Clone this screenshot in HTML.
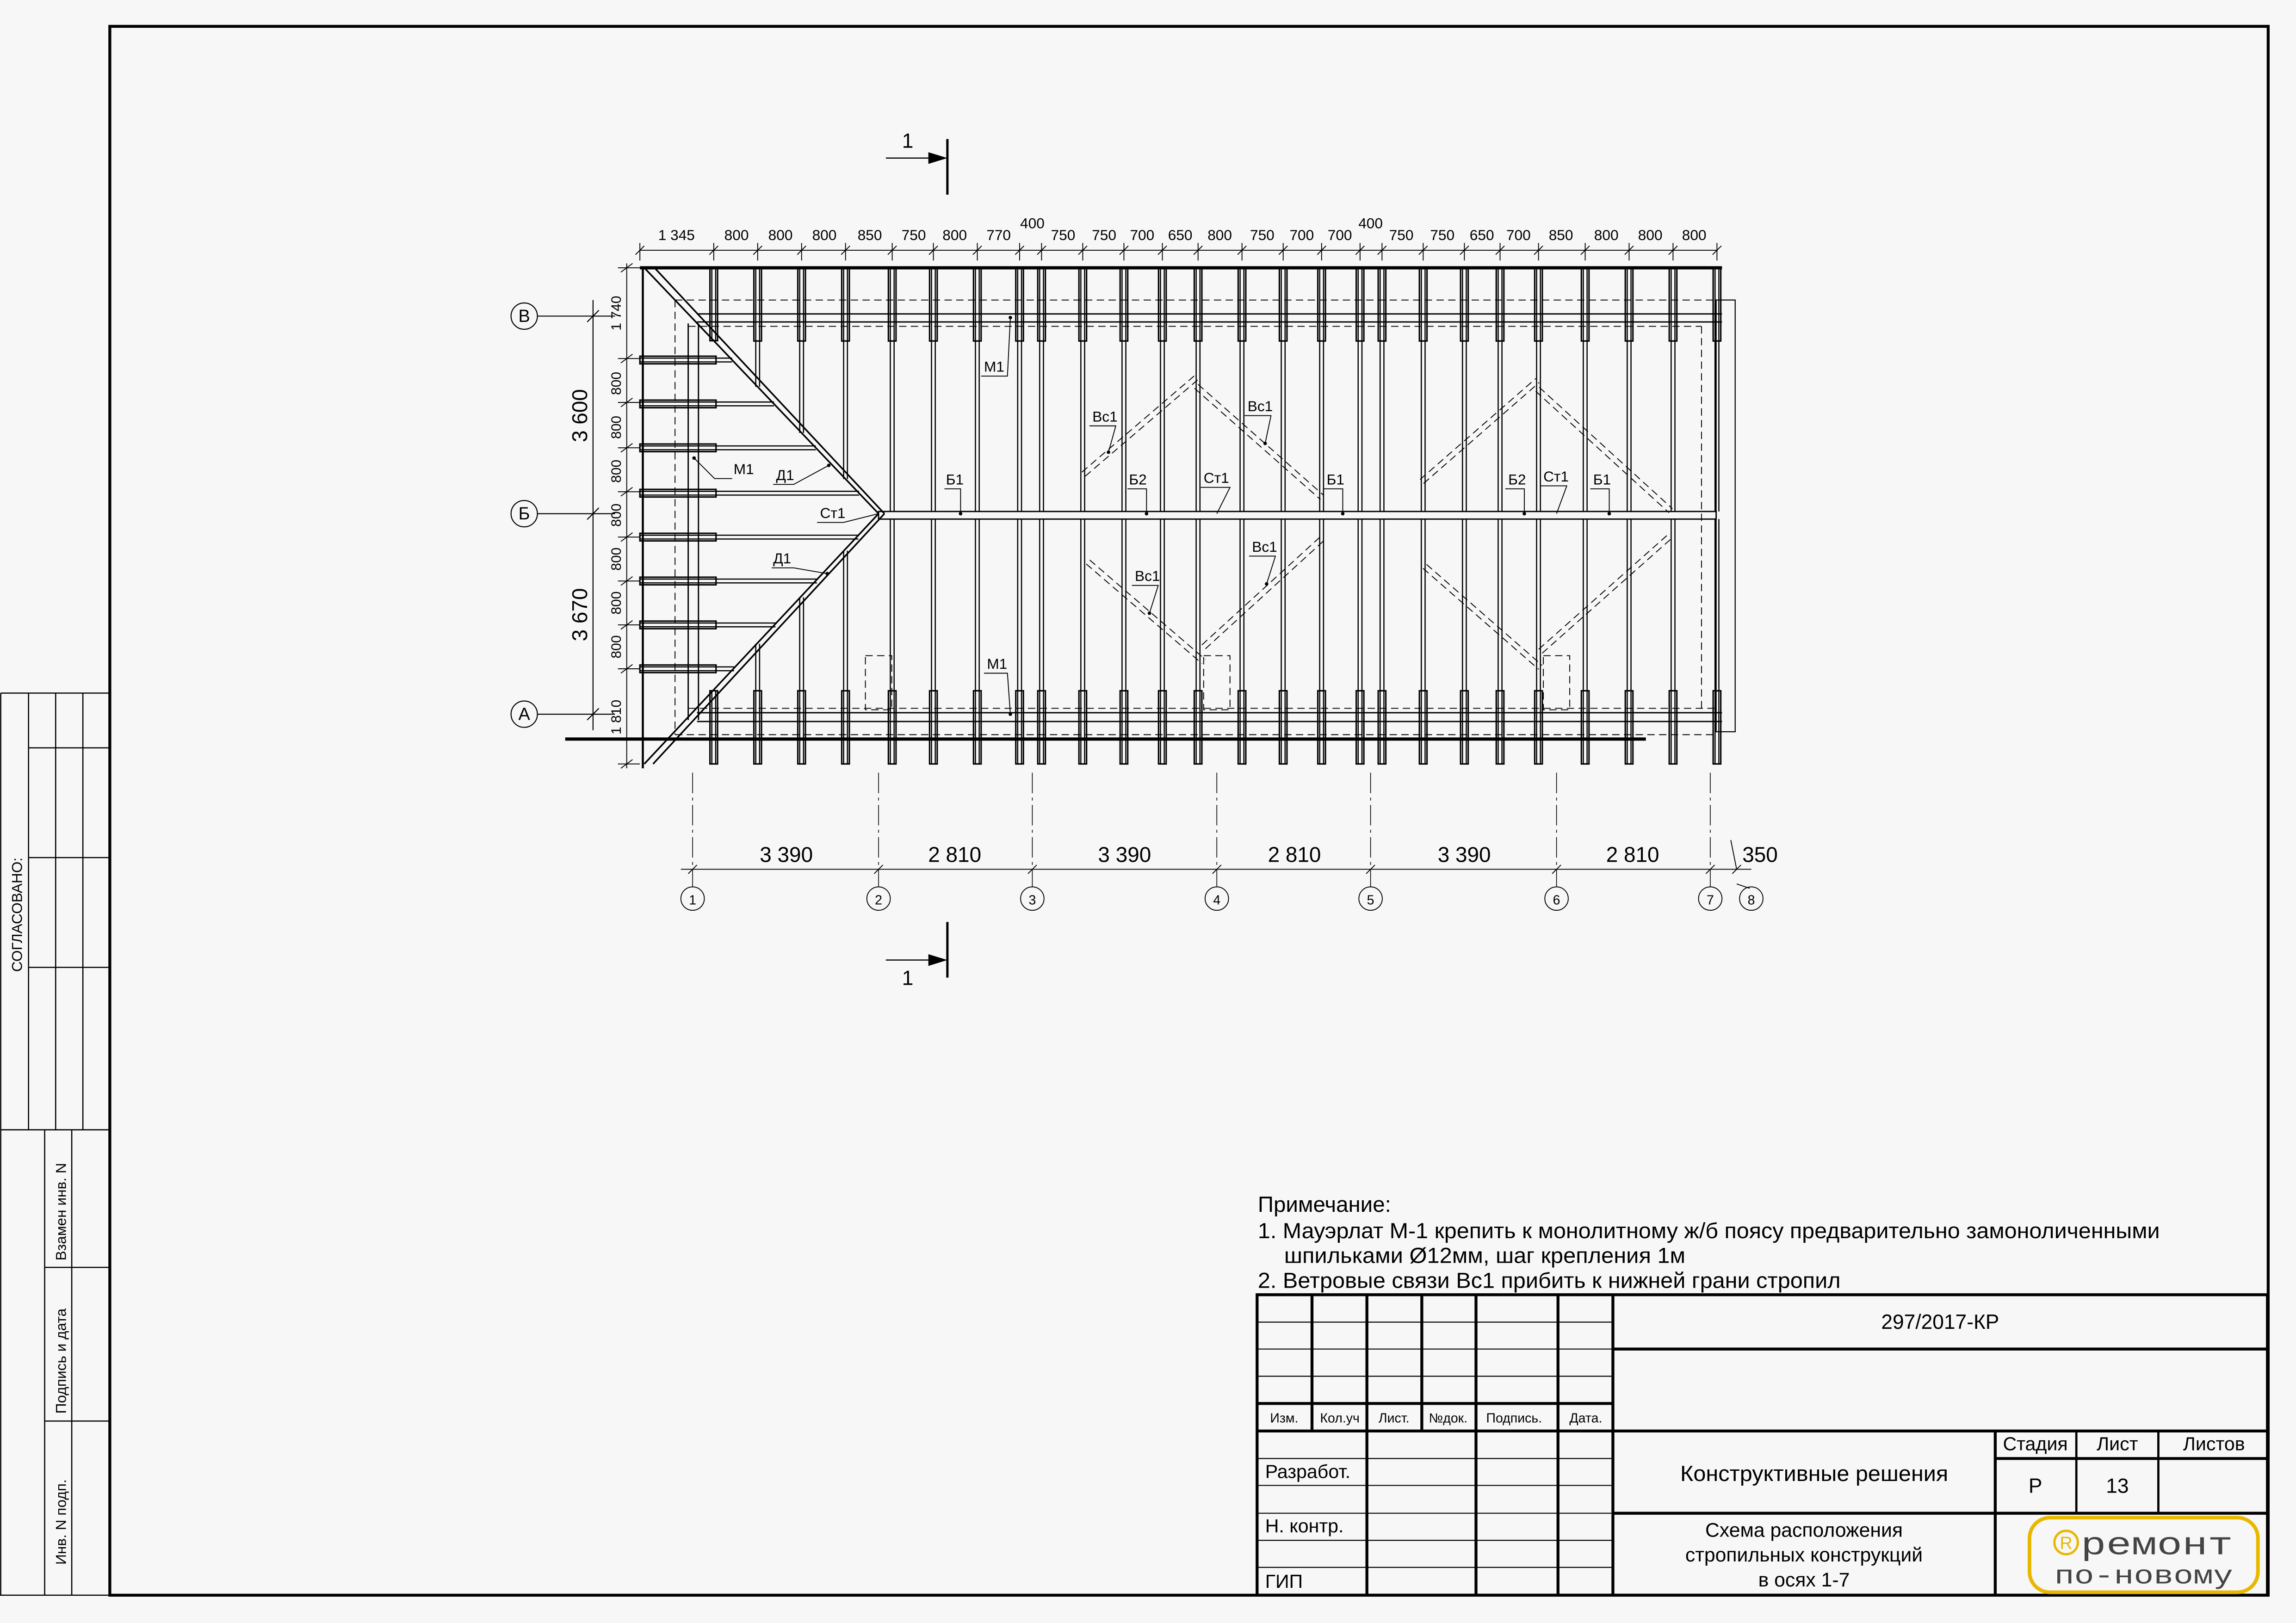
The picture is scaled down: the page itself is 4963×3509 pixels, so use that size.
<!DOCTYPE html>
<html><head><meta charset="utf-8"><style>
html,body{margin:0;padding:0;background:#f7f7f7;}
svg{display:block;}
text{font-family:"Liberation Sans",sans-serif;fill:#000;}
</style></head><body>
<svg id="s" xmlns="http://www.w3.org/2000/svg" width="4963" height="3509" viewBox="0 0 1568 1109" preserveAspectRatio="none">
<rect width="1568" height="1109" fill="#f7f7f7"/>
<rect x="75" y="18" width="1474" height="1072" fill="none" stroke="#000" stroke-width="2"/>
<g stroke="#000" fill="none" stroke-width="0.8">
<path d="M0.5 473.6H75 M0.5 473.6V1090 M0.5 772H75 M19.5 473.6V772 M38 473.6V772 M56.6 473.6V772 M19.5 511H75 M19.5 586H75 M19.5 661H75 M30.5 772V1090 M49 772V1090 M30.5 866H75 M30.5 971H75 M0 1090H75"/>
</g>
<g font-size="10">
<text transform="translate(15,625) rotate(-90)" text-anchor="middle">СОГЛАСОВАНО:</text>
<text transform="translate(45,828) rotate(-90)" text-anchor="middle">Взамен инв. N</text>
<text transform="translate(45,930) rotate(-90)" text-anchor="middle">Подпись и дата</text>
<text transform="translate(45,1040) rotate(-90)" text-anchor="middle">Инв. N подп.</text>
</g>

<g id="plan" stroke="#000" fill="none" stroke-width="0.8"></g>
<g id="dash" stroke="#000" fill="none" stroke-width="0.6" stroke-dasharray="5,3"></g>

<g stroke="#000" stroke-width="1.6" fill="none">
<path d="M647 95V133 M647 630V668"/>
</g>
<g stroke="#000" stroke-width="0.8"><path d="M605 108H640 M605 656H640"/></g>
<path d="M647 108L634 104V112Z M647 656L634 652V660Z" fill="#000"/>
<text x="616" y="101" font-size="14">1</text>
<text x="616" y="673" font-size="14">1</text>

<g stroke="#000" fill="none" stroke-width="0.7">
<circle cx="358" cy="216" r="9"/><circle cx="358" cy="351" r="9"/><circle cx="358" cy="488" r="9"/>
<path d="M367 216H420 M367 351H420 M367 488H420"/>
</g>
<g font-size="12" text-anchor="middle">
<text x="358" y="220">В</text><text x="358" y="355">Б</text><text x="358" y="492">А</text>
</g>
<g stroke="#000" stroke-width="0.7"><path d="M405 205V499 M401 220L409 212 M401 355L409 347 M401 492L409 484"/></g>
<g font-size="14.5" text-anchor="middle">
<text transform="translate(401,284) rotate(-90)">3 600</text>
<text transform="translate(401,420) rotate(-90)">3 670</text>
</g>
<g font-size="9.5" text-anchor="middle">
<text transform="translate(424,214) rotate(-90)">1 740</text>
<text transform="translate(424,262) rotate(-90)">800</text>
<text transform="translate(424,292) rotate(-90)">800</text>
<text transform="translate(424,322) rotate(-90)">800</text>
<text transform="translate(424,352) rotate(-90)">800</text>
<text transform="translate(424,382) rotate(-90)">800</text>
<text transform="translate(424,412) rotate(-90)">800</text>
<text transform="translate(424,442) rotate(-90)">800</text>
<text transform="translate(424,490) rotate(-90)">1 810</text>
</g>

<g font-size="10" text-anchor="middle">
<text x="462" y="164">1 345</text><text x="503" y="164">800</text><text x="533" y="164">800</text><text x="563" y="164">800</text><text x="594" y="164">850</text><text x="624" y="164">750</text><text x="652" y="164">800</text><text x="682" y="164">770</text>
<text x="705" y="156">400</text>
<text x="726" y="164">750</text><text x="754" y="164">750</text><text x="780" y="164">700</text><text x="806" y="164">650</text><text x="833" y="164">800</text><text x="862" y="164">750</text><text x="889" y="164">700</text><text x="915" y="164">700</text>
<text x="936" y="156">400</text>
<text x="957" y="164">750</text><text x="985" y="164">750</text><text x="1012" y="164">650</text><text x="1037" y="164">700</text><text x="1066" y="164">850</text><text x="1097" y="164">800</text><text x="1127" y="164">800</text><text x="1157" y="164">800</text>
</g>

<g font-size="14.5" text-anchor="middle">
<text x="537" y="589">3 390</text><text x="652" y="589">2 810</text><text x="768" y="589">3 390</text><text x="884" y="589">2 810</text><text x="1000" y="589">3 390</text><text x="1115" y="589">2 810</text>
<text x="1202" y="589">350</text>
</g>
<g font-size="9" text-anchor="middle">
<text x="473" y="618">1</text><text x="600" y="618">2</text><text x="705" y="618">3</text><text x="831" y="618">4</text><text x="936" y="618">5</text><text x="1063" y="618">6</text><text x="1168" y="618">7</text><text x="1196" y="618">8</text>
</g>

<g font-size="10">
<text x="672" y="254">М1</text>
<text x="501" y="324">М1</text>
<text x="530" y="328">Д1</text>
<text x="560" y="354">Ст1</text>
<text x="528" y="385">Д1</text>
<text x="646" y="331">Б1</text>
<text x="746" y="288">Вс1</text>
<text x="771" y="331">Б2</text>
<text x="822" y="330">Ст1</text>
<text x="852" y="281">Вс1</text>
<text x="906" y="331">Б1</text>
<text x="1030" y="331">Б2</text>
<text x="1054" y="329">Ст1</text>
<text x="1088" y="331">Б1</text>
<text x="775" y="397">Вс1</text>
<text x="855" y="377">Вс1</text>
<text x="674" y="457">М1</text>
</g>
<g stroke="#000" stroke-width="0.6" fill="none">
<path d="M670 257H688L690 217 M500 327H488L474 313 M528 331H542L566 318 M558 357H576L600 351 M527 388H542L565 392 M645 334H656V351 M744 291H762L757 309 M770 334H783V351 M820 333H840L831 351 M850 284H868L864 303 M904 334H917V351 M1028 334H1041V351 M1052 332H1070L1063 351 M1086 334H1099V351 M773 400H791L785 419 M853 380H871L865 399 M672 460H688L690 488"/>
</g>
<g fill="#000">
<circle cx="690" cy="217" r="1.2"/><circle cx="474" cy="313" r="1.2"/><circle cx="566" cy="318" r="1.2"/><circle cx="565" cy="392" r="1.2"/><circle cx="656" cy="351" r="1.2"/><circle cx="757" cy="309" r="1.2"/><circle cx="783" cy="351" r="1.2"/><circle cx="864" cy="303" r="1.2"/><circle cx="917" cy="351" r="1.2"/><circle cx="1041" cy="351" r="1.2"/><circle cx="1099" cy="351" r="1.2"/><circle cx="785" cy="419" r="1.2"/><circle cx="865" cy="399" r="1.2"/><circle cx="690" cy="488" r="1.2"/>
</g>

<g font-size="15">
<text x="859" y="828">Примечание:</text>
<text x="859" y="846" textLength="616" lengthAdjust="spacingAndGlyphs">1. Мауэрлат М-1 крепить к монолитному ж/б поясу предварительно замоноличенными</text>
<text x="877" y="863" textLength="274" lengthAdjust="spacingAndGlyphs">шпильками Ø12мм, шаг крепления 1м</text>
<text x="859" y="880" textLength="398" lengthAdjust="spacingAndGlyphs">2. Ветровые связи Вс1 прибить к нижней грани стропил</text>
</g>

<g stroke="#000" fill="none">
<rect x="858.5" y="884.7" width="690" height="205.3" stroke-width="2"/>
<path stroke-width="2" d="M1101.5 884.7V1090 M858.5 959H1101.5 M858.5 977.8H1549 M1101.5 921.8H1549 M1101.5 1034H1549 M1362.6 977.8V1090 M1362.6 996.6H1549 M933.5 884.7V1090 M1008 884.7V1090 M1064 884.7V1090 M896 884.7V977.8 M971 884.7V977.8"/>
<path stroke-width="1.5" d="M1418 977.8V1034 M1474 977.8V1034"/>
<path stroke-width="0.7" d="M858.5 903.4H1101.5 M858.5 921.8H1101.5 M858.5 940.4H1101.5 M858.5 996.6H1101.5 M858.5 1015H1101.5 M858.5 1034H1101.5 M858.5 1052.5H1101.5 M858.5 1071H1101.5"/>
</g>
<g font-size="9" text-anchor="middle">
<text x="877" y="972">Изм.</text><text x="915" y="972">Кол.уч</text><text x="952" y="972">Лист.</text><text x="989" y="972">№док.</text><text x="1034" y="972">Подпись.</text><text x="1083" y="972">Дата.</text>
</g>
<g font-size="13">
<text x="864" y="1010">Разработ.</text><text x="864" y="1047">Н. контр.</text><text x="864" y="1085">ГИП</text>
</g>
<g text-anchor="middle">
<text x="1325" y="908" font-size="14">297/2017-КР</text>
<text x="1239" y="1012" font-size="15" textLength="183" lengthAdjust="spacingAndGlyphs">Конструктивные решения</text>
<text x="1390" y="991" font-size="13">Стадия</text><text x="1446" y="991" font-size="13">Лист</text><text x="1512" y="991" font-size="13">Листов</text>
<text x="1390" y="1020" font-size="14">Р</text><text x="1446" y="1020" font-size="14">13</text>
<text x="1232" y="1050" font-size="13.5">Схема расположения</text>
<text x="1232" y="1067" font-size="13.5">стропильных конструкций</text>
<text x="1232" y="1084" font-size="13.5">в осях 1-7</text>
</g>
<rect x="1386" y="1037" width="156" height="51" rx="14" fill="none" stroke="#e8b800" stroke-width="2.5"/>
<circle cx="1411" cy="1054" r="8" fill="none" stroke="#e8b800" stroke-width="1.6"/>
<text x="1411" y="1058.5" font-size="12" text-anchor="middle" style="fill:#e8b800">R</text>
<text x="1421" y="1062" font-size="22" textLength="104" lengthAdjust="spacingAndGlyphs" style="font-family:'Liberation Mono',monospace;fill:#444">ремонт</text>
<text x="1403" y="1082" font-size="18" textLength="122" lengthAdjust="spacingAndGlyphs" style="font-family:'Liberation Mono',monospace;fill:#444">по-новому</text>
</svg>
<script>
(function(){
var NS="http://www.w3.org/2000/svg";
var plan=document.getElementById('plan'), dash=document.getElementById('dash');
function P(g,d,w){var p=document.createElementNS(NS,'path');p.setAttribute('d',d);if(w)p.setAttribute('stroke-width',w);g.appendChild(p);}
function R(g,x,y,w,h,sw){var r=document.createElementNS(NS,'rect');r.setAttribute('x',x);r.setAttribute('y',y);r.setAttribute('width',w);r.setAttribute('height',h);if(sw)r.setAttribute('stroke-width',sw);g.appendChild(r);}
var vals=[1345,800,800,800,850,750,800,770,400,750,750,700,650,800,750,700,700,400,750,750,650,700,850,800,800,800];
var xs=[437],c=437;vals.forEach(function(v){c+=v*0.0375;xs.push(c);});
var d='';
d+='M437 171H1173 ';
xs.forEach(function(x){d+='M'+(x-3)+' 174L'+(x+3)+' 168 M'+x+' 166V178 ';});
var ly=[183,245,275,306,336,367,397,427,457,522];
d+='M428 180V525 ';
ly.forEach(function(y){d+='M424 '+(y+3)+'L432 '+(y-3)+' M422 '+y+'H437 ';});
var ax=[473,600,705,831,936,1063,1168,1186];
d+='M465 594H1196 ';
ax.forEach(function(x){d+='M'+(x-3)+' 597L'+(x+3)+' 591 ';});
d+='M1186 594L1182 574 M1186 604L1195 607';
P(plan,d,0.6);
[473,600,705,831,936,1063,1168,1196].forEach(function(x){var ci=document.createElementNS(NS,'circle');ci.setAttribute('cx',x);ci.setAttribute('cy',614);ci.setAttribute('r',8);ci.setAttribute('stroke-width',0.6);plan.appendChild(ci);});
var g2=document.createElementNS(NS,'g');g2.setAttribute('stroke-dasharray','14,3,2,3');plan.appendChild(g2);
var ad='';ax.slice(0,7).forEach(function(x){ad+='M'+x+' 528V606 ';});P(g2,ad,0.5);
P(plan,'M437 183H1176',2.2);
P(plan,'M386 505H1124',2.2);
P(plan,'M439 183V525',1.4);
P(plan,'M476 214.5H1176 M476 220H1176 M476 487H1176 M476 493H1176 M470 221V492 M477 221V492',0.9);
R(plan,600,349.5,572,5.2,0.9);
P(plan,'M440 183L600 351 M447 183L604 351 M600 351L440 522 M604 351L446 522',1.1);
var rd='';
for(var i=1;i<xs.length;i++){
 var x=xs[i];
 var ytop=183, ybot=522, y1=349.5, y2=354.7;
 if(x<600){ y1=183+(x-440)*1.05; y2=522-(x-440)*1.06; }
 rd+='M'+(x-1.3)+' '+ytop+'V'+y1+' M'+(x+1.3)+' '+ytop+'V'+y1+' ';
 rd+='M'+(x-1.3)+' '+y2+'V'+ybot+' M'+(x+1.3)+' '+y2+'V'+ybot+' ';
 R(plan,x-2.6,183,5.2,Math.min(50,y1-183),1);
 R(plan,x-2.6,Math.max(472,y2),5.2,522-Math.max(472,y2),1);
}
P(plan,rd,0.8);
[246,276,306,337].forEach(function(y){var hx=440+(y-183)/1.05;P(plan,'M437 '+(y-1.3)+'H'+hx+' M437 '+(y+1.3)+'H'+hx,0.8);R(plan,437,y-2.6,52,5.2,1);});
[367,397,427,457].forEach(function(y){var hx=440+(522-y)/1.06;P(plan,'M437 '+(y-1.3)+'H'+hx+' M437 '+(y+1.3)+'H'+hx,0.8);R(plan,437,y-2.6,52,5.2,1);});
R(plan,1172,205,13,295,0.7);
P(dash,'M461 205H1172 M470 223H1162 M470 484H1172 M461 502H1172 M461 205V502 M1162 223V484');
R(dash,591,448,18,37);R(dash,822,448,18,37);R(dash,1054,448,18,37);
function br(x1,y1,x2,y2){var dx=y2-y1,dy=x1-x2,l=Math.hypot(dx,dy);var ox=dx/l*1.8,oy=dy/l*1.8;P(dash,'M'+(x1+ox)+' '+(y1+oy)+'L'+(x2+ox)+' '+(y2+oy)+' M'+(x1-ox)+' '+(y1-oy)+'L'+(x2-ox)+' '+(y2-oy));}
br(740,324,817,258);br(817,264,903,340);br(971,329,1050,260);br(1050,266,1141,349);
br(743,384,822,452);br(822,442,903,368);br(973,387,1052,456);br(1052,445,1141,366);
})();
</script>
</body></html>
